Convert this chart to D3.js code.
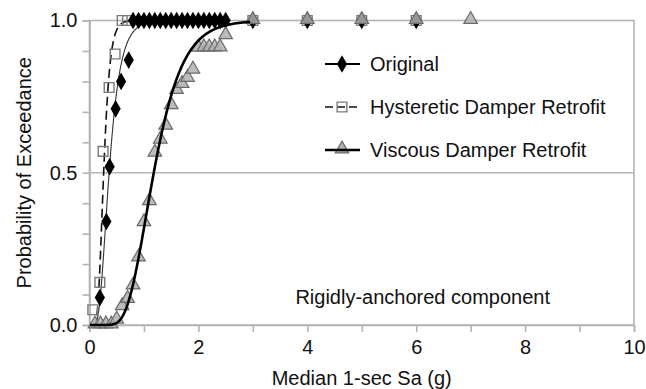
<!DOCTYPE html>
<html>
<head>
<meta charset="utf-8">
<script src="https://cdn.jsdelivr.net/npm/d3@7"></script>
<style>
  html, body { margin: 0; padding: 0; background: #fff; }
  svg { display: block; }
  text { font-family: "Liberation Sans", Arial, Helvetica, sans-serif; fill: #111; }
</style>
</head>
<body>
<svg id="chart" width="646" height="389"></svg>
<script>
// ---- data -------------------------------------------------------------
// Original building: exceedance fractions vs. median 1-sec Sa (g)
const originalSa   = [0.19, 0.31, 0.37, 0.48, 0.58, 0.72, 0.8, 0.9, 1.0, 1.1, 1.2, 1.3, 1.4, 1.5, 1.6, 1.7, 1.8, 1.9, 2.0, 2.1, 2.2, 2.3, 2.4, 2.5, 3, 4, 5, 6];
const originalProb = [0.09, 0.34, 0.52, 0.71, 0.80, 0.87, 1.0, 1.0, 1.0, 1.0, 1.0, 1.0, 1.0, 1.0, 1.0, 1.0, 1.0, 1.0, 1.0, 1.0, 1.0, 1.0, 1.0, 1.0, 1.0, 1.0, 1.0, 1.0];

// Hysteretic damper retrofit
const hystSa   = [0.06, 0.19, 0.25, 0.36, 0.47, 0.6, 0.7, 3, 4, 5, 6];
const hystProb = [0.05, 0.14, 0.57, 0.78, 0.89, 1.0, 1.0, 1.0, 1.0, 1.0, 1.0];

// Viscous damper retrofit
const viscSa   = [0.1, 0.2, 0.3, 0.4, 0.5, 0.6, 0.7, 0.8, 0.9, 1.0, 1.1, 1.2, 1.3, 1.4, 1.5, 1.6, 1.7, 1.8, 1.9, 2.0, 2.1, 2.2, 2.3, 2.4, 2.5, 3, 4, 5, 6, 7];
const viscProb = [0.0, 0.0, 0.0, 0.0, 0.016, 0.06, 0.084, 0.128, 0.22, 0.336, 0.405, 0.564, 0.607, 0.653, 0.72, 0.77, 0.79, 0.81, 0.837, 0.909, 0.91, 0.91, 0.91, 0.91, 0.95, 1.0, 1.0, 1.0, 1.0, 1.0];

// Lognormal fragility fits: [median Sa (g), dispersion beta]
const originalFit = [0.36, 0.45];
const hystFit     = [0.26, 0.35];
const viscFit     = [1.18, 0.35];

const xTicks      = [0, 1, 2, 3, 4, 5, 6, 7, 8, 9, 10];
const xTickLabels = ["0", "", "2", "", "4", "", "6", "", "8", "", "10"];
const yTicks      = [0, 0.1, 0.2, 0.3, 0.4, 0.5, 0.6, 0.7, 0.8, 0.9, 1.0];
const yTickLabels = ["0.0", "", "", "", "", "0.5", "", "", "", "", "1.0"];

const legendNames = ["Original", "Hysteretic Damper Retrofit", "Viscous Damper Retrofit"];
const xTitle = "Median 1-sec Sa (g)";
const yTitle = "Probability of Exceedance";
const note   = "Rigidly-anchored component";

// ---- layout -----------------------------------------------------------
const svg = d3.select("#chart");
const plotL = 89.5, plotR = 634, plotT = 20.5, plotB = 325;
const x = d3.scaleLinear().domain([0, 10]).range([plotL, plotR]);
const y = d3.scaleLinear().domain([0, 1]).range([plotB, plotT]);
const gridColor = "#b4b4b4";
const FS = 20;

// standard normal CDF
function erf(z) {
  const t = 1 / (1 + 0.3275911 * Math.abs(z));
  const p = 1 - (((((1.061405429 * t - 1.453152027) * t) + 1.421413741) * t - 0.284496736) * t + 0.254829592) * t * Math.exp(-z * z);
  return z >= 0 ? p : -p;
}
const Phi = z => 0.5 * (1 + erf(z / Math.SQRT2));
function fitCurve(fit, xmax) {
  const pts = [];
  for (let s = 0.01; s <= xmax + 1e-9; s += 0.01) pts.push([s, Phi(Math.log(s / fit[0]) / fit[1])]);
  return pts;
}

// frame and gridline
svg.append("rect")
  .attr("x", plotL).attr("y", plotT)
  .attr("width", plotR - plotL).attr("height", plotB - plotT)
  .attr("fill", "none").attr("stroke", gridColor).attr("stroke-width", 1.6);
svg.append("line")
  .attr("x1", plotL).attr("x2", plotR)
  .attr("y1", y(0.5)).attr("y2", y(0.5))
  .attr("stroke", gridColor).attr("stroke-width", 1.6);

// axes
const xAxis = d3.axisBottom(x).tickValues(xTicks)
  .tickFormat((d, i) => xTickLabels[i]).tickSize(7).tickPadding(8);
const gx = svg.append("g").attr("transform", `translate(0,${plotB})`).call(xAxis);
const yAxis = d3.axisLeft(y).tickValues(yTicks)
  .tickFormat((d, i) => yTickLabels[i]).tickSize(7).tickPadding(5);
const gy = svg.append("g").attr("transform", `translate(${plotL},0)`).call(yAxis);
[gx, gy].forEach(g => {
  g.select(".domain").attr("stroke", gridColor).attr("stroke-width", 1.6);
  g.selectAll(".tick line").attr("stroke", gridColor).attr("stroke-width", 1.6);
  g.selectAll(".tick text").attr("font-size", FS).attr("font-family", "Liberation Sans, Arial, sans-serif").attr("fill", "#111");
});

// titles
svg.append("text").attr("x", (plotL + plotR) / 2).attr("y", 385)
  .attr("text-anchor", "middle").attr("font-size", FS).text(xTitle);
svg.append("text")
  .attr("transform", `translate(31,${(plotT + plotB) / 2}) rotate(-90)`)
  .attr("text-anchor", "middle").attr("font-size", FS).text(yTitle);
svg.append("text").attr("x", 550).attr("y", 304)
  .attr("text-anchor", "end").attr("font-size", FS).text(note);

// marker shapes
const diamond = d3.symbol().type(d3.symbolDiamond).size(90);
const square  = d3.symbol().type(d3.symbolSquare).size(95);
const tri     = d3.symbol().type(d3.symbolTriangle).size(80);
const line = d3.line().x(d => x(d[0])).y(d => y(d[1]));

const plot = svg.append("g");

// fitted curves (original and hysteretic drawn beneath markers)
plot.append("path").datum(fitCurve(originalFit, 2.5)).attr("d", line)
  .attr("fill", "none").attr("stroke", "#333").attr("stroke-width", 1.1);
plot.append("path").datum(fitCurve(hystFit, 2.5)).attr("d", line)
  .attr("fill", "none").attr("stroke", "#111").attr("stroke-width", 1.6)
  .attr("stroke-dasharray", "9,5");

// squares
plot.selectAll(".sq").data(d3.zip(hystSa, hystProb)).join("path")
  .attr("class", "sq").attr("d", square)
  .attr("transform", d => `translate(${x(d[0])},${y(d[1])})`)
  .attr("fill", "none").attr("stroke", "#7a7a7a").attr("stroke-width", 1.4);

// diamonds
plot.selectAll(".dm").data(d3.zip(originalSa, originalProb)).join("path")
  .attr("class", "dm").attr("d", diamond)
  .attr("transform", d => `translate(${x(d[0])},${y(d[1])})`)
  .attr("fill", "#000");

// triangles
plot.selectAll(".tr").data(d3.zip(viscSa, viscProb)).join("path")
  .attr("class", "tr").attr("d", tri)
  .attr("transform", d => `translate(${x(d[0])},${y(d[1]) - 1})`)
  .attr("fill", "#b0b0b0").attr("fill-opacity", 0.85)
  .attr("stroke", "#6a6a6a").attr("stroke-width", 1.2);

// viscous fit on top
plot.append("path").datum(fitCurve(viscFit, 2.95)).attr("d", line)
  .attr("fill", "none").attr("stroke", "#000").attr("stroke-width", 2.6);

// legend
const legY = [64, 107, 150];
const lg = svg.append("g");
legendNames.forEach((name, i) => {
  const g = lg.append("g").attr("transform", `translate(0,${legY[i]})`);
  const ln = g.append("line").attr("x1", 325).attr("x2", 360).attr("y1", 0).attr("y2", 0);
  if (i === 0) {
    ln.attr("stroke", "#000").attr("stroke-width", 1.8);
    g.append("path").attr("d", diamond).attr("transform", "translate(342,0)").attr("fill", "#000");
  } else if (i === 1) {
    ln.attr("stroke", "#111").attr("stroke-width", 1.6).attr("stroke-dasharray", "8,4");
    g.append("path").attr("d", square).attr("transform", "translate(342,0)")
      .attr("fill", "none").attr("stroke", "#7a7a7a").attr("stroke-width", 1.4);
  } else {
    g.append("path").attr("d", tri).attr("transform", "translate(342,-1)")
      .attr("fill", "#b0b0b0").attr("stroke", "#6a6a6a").attr("stroke-width", 1.2);
    ln.attr("stroke", "#000").attr("stroke-width", 2.4).raise();
  }
  g.append("text").attr("x", 370).attr("y", 7).attr("font-size", FS).text(name);
});
</script>
</body>
</html>
